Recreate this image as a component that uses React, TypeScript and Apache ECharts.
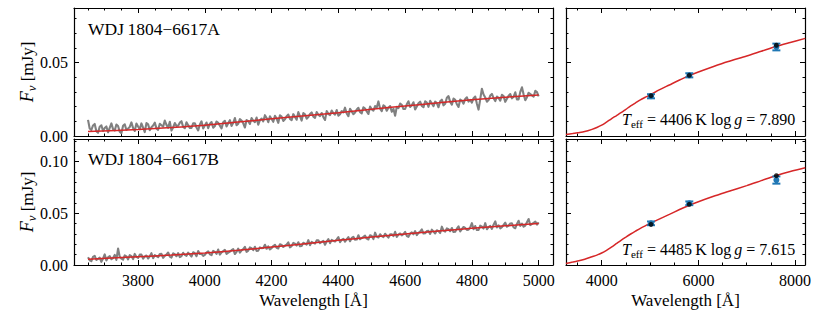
import React, { useEffect, useRef } from 'react';
import * as echarts from 'echarts';

// ---- data (flux in micro-Jansky; axes in mJy) ----
const SPEC_START = 3650; // Å
const SPEC_STEP = 5; // Å
const fluxA_uJy = [
  11.0, 5.1, 4.1, 7.2, 8.2, 3.3, 2.2, 6.3, 7.3, 3.4, 5.4, 6.5, 2.5, 5.6, 8.6, 4.7, 3.7, 7.8, 6.8, 2.9,
  1.9, 7.0, 8.0, 4.1, 5.1, 6.2, 9.3, 5.4, 3.4, 8.5, 6.5, 4.6, 8.6, 5.7, 2.7, 8.8, 7.9, 4.0, 6.0, 7.1,
  9.1, 5.2, 4.2, 8.3, 7.3, 6.4, 10.5, 7.6, 5.6, 9.7, 3.7, 5.8, 8.8, 6.9, 7.0, 9.1, 10.1, 6.2, 5.3, 9.4,
  7.4, 5.5, 5.5, 8.6, 8.7, 5.8, 3.8, 7.9, 10.0, 5.1, 7.1, 9.2, 5.3, 8.4, 9.5, 5.6, 6.8, 9.9, 9.0, 7.1,
  5.2, 9.3, 10.4, 6.5, 8.7, 10.8, 6.9, 9.0, 12.2, 7.3, 8.4, 11.5, 10.6, 8.7, 5.8, 10.9, 10.1, 8.2, 12.3, 10.4,
  9.5, 12.6, 7.7, 10.8, 11.9, 10.0, 14.2, 12.3, 9.4, 13.5, 11.6, 9.7, 13.8, 11.9, 9.0, 14.1, 13.2, 10.3, 11.4, 13.5,
  14.6, 11.7, 10.8, 14.9, 13.0, 11.1, 16.3, 13.4, 10.5, 15.6, 14.7, 11.8, 12.9, 15.0, 16.1, 13.2, 12.3, 16.4, 14.5, 13.6,
  15.7, 12.8, 10.9, 17.0, 15.1, 14.2, 17.4, 15.5, 14.6, 17.7, 13.8, 14.9, 17.0, 16.1, 19.3, 15.4, 13.5, 18.6, 16.8, 14.9,
  16.0, 18.1, 19.2, 16.3, 15.5, 19.6, 18.7, 16.8, 15.0, 20.1, 18.2, 17.3, 20.4, 19.5, 23.6, 18.7, 16.9, 21.0, 20.1, 17.2,
  19.3, 20.4, 16.5, 18.6, 13.8, 19.9, 19.0, 22.1, 21.3, 18.4, 18.5, 21.6, 23.7, 19.8, 20.9, 23.0, 18.1, 20.2, 22.3, 23.4,
  20.5, 19.6, 23.7, 22.8, 19.9, 24.0, 22.2, 20.3, 23.4, 22.5, 19.6, 23.7, 24.8, 20.9, 22.0, 26.1, 27.2, 23.3, 21.4, 25.5,
  24.6, 21.7, 19.8, 24.9, 24.0, 22.1, 25.3, 26.4, 23.5, 24.6, 22.7, 25.8, 26.9, 22.0, 18.0, 25.1, 32.2, 28.3, 26.3, 23.4,
  24.5, 27.6, 28.7, 25.8, 23.8, 26.9, 26.0, 24.1, 28.1, 27.2, 23.3, 25.4, 27.5, 28.6, 25.7, 26.8, 29.8, 24.9, 25.0, 30.1,
  33.2, 28.3, 24.4, 26.5, 29.5, 28.6, 27.7, 26.8, 30.8, 29.9,
  27.0,
];
const fluxB_uJy = [
  7.5, 4.6, 3.7, 7.8, 8.8, 4.9, 6.0, 7.1, 3.1, 6.2, 10.3, 4.4, 7.5, 8.6, 5.6, 6.7, 9.8, 4.9, 15.9, 8.0,
  6.1, 5.2, 9.3, 8.4, 5.4, 9.5, 8.6, 5.7, 10.7, 7.8, 6.9, 10.0, 10.0, 6.1, 8.1, 9.2, 6.3, 8.4, 11.4, 6.5,
  9.5, 8.6, 7.6, 10.7, 10.8, 6.9, 8.9, 10.0, 12.1, 8.2, 7.2, 11.3, 10.4, 8.5, 11.5, 7.6, 8.7, 11.8, 9.8, 8.9,
  12.0, 10.1, 8.2, 12.3, 11.4, 8.5, 13.5, 10.6, 10.7, 8.8, 9.9, 12.0, 13.2, 10.3, 9.5, 13.6, 12.7, 10.8, 15.0, 10.1,
  12.3, 13.4, 14.6, 10.7, 11.9, 13.0, 14.3, 15.4, 10.6, 12.7, 15.9, 12.0, 14.2, 15.3, 17.6, 12.7, 13.9, 17.0, 16.3, 14.4,
  17.6, 13.7, 13.9, 17.0, 16.3, 16.4, 19.6, 15.7, 18.0, 15.1, 16.3, 18.4, 19.6, 16.7, 16.0, 20.1, 19.3, 17.4, 18.7, 19.8,
  22.0, 17.1, 18.3, 21.4, 20.7, 18.8, 22.0, 18.1, 18.4, 21.5, 20.7, 19.8, 24.0, 19.1, 22.3, 21.4, 20.7, 23.8, 24.0, 21.1,
  22.3, 23.4, 19.6, 22.7, 25.0, 21.1, 24.3, 23.4, 22.7, 24.8, 27.0, 22.1, 24.3, 25.4, 22.6, 24.7, 26.9, 23.0, 26.2, 27.3,
  24.5, 24.6, 28.8, 24.9, 26.1, 27.2, 28.4, 25.5, 24.7, 28.8, 28.0, 25.1, 31.3, 27.4, 26.6, 29.7, 27.9, 27.0, 30.2, 28.3,
  26.5, 29.6, 29.8, 27.9, 32.1, 27.2, 29.4, 30.5, 28.7, 29.8, 32.0, 28.1, 27.3, 30.4, 31.6, 29.7, 32.8, 28.9, 31.1, 32.2,
  34.4, 30.5, 30.7, 32.8, 33.0, 30.1, 34.2, 32.3, 30.5, 33.6, 32.8, 30.9, 37.1, 33.2, 32.3, 35.4, 34.6, 32.7, 35.8, 31.9,
  32.1, 35.2, 37.4, 32.5, 34.7, 36.8, 35.9, 34.0, 34.2, 36.3, 40.5, 34.6, 37.7, 33.8, 34.0, 38.1, 37.2, 35.3, 40.5, 34.6,
  36.7, 37.8, 34.9, 39.0, 42.2, 36.3, 38.4, 35.5, 36.7, 38.8, 40.9, 37.0, 38.1, 40.2, 40.3, 36.4, 35.6, 39.7, 42.8, 37.9,
  40.0, 37.1, 38.2, 41.3, 44.5, 38.6, 39.7, 40.8, 42.0, 39.1,
  41.2,
];
const modelWave = [3260, 3400, 3500, 3650, 3800, 3900, 4000, 4100, 4200, 4300, 4400, 4500, 4600, 4700, 4800, 4900, 5000, 5200, 5400, 5600, 5800, 6000, 6300, 6600, 7000, 7300, 7600, 7900, 8210];
const modelA_uJy = [1.1, 1.7, 2.2, 3.0, 4.5, 5.8, 7.4, 9.5, 11.7, 13.8, 15.9, 18.2, 20.5, 22.6, 24.7, 26.4, 28.0, 31.6, 34.8, 38.0, 41.0, 43.6, 47.2, 50.6, 54.6, 57.8, 61.0, 63.8, 66.6];
const modelB_uJy = [1.5, 2.8, 3.8, 5.6, 8.0, 9.6, 11.6, 14.2, 17.3, 20.6, 23.9, 27.0, 30.0, 32.8, 35.5, 37.9, 40.2, 44.6, 49.0, 53.4, 57.6, 61.2, 66.2, 70.8, 76.8, 81.6, 86.4, 90.4, 94.0];
const photWave = [5020, 5812, 7613];
const photObsA_uJy = [27.1, 41.4, 60.7];
const photErrA_uJy = [1.4, 1.4, 2.3];
const photSynA_uJy = [27.5, 41.4, 61.9];
const photObsB_uJy = [40.3, 59.7, 82.2];
const photErrB_uJy = [1.8, 1.8, 3.5];
const photSynB_uJy = [39.3, 58.7, 86.4];
const titles = ['WDJ\u20091804\u22126617A', 'WDJ\u20091804\u22126617B'];
const teffText = ['4406', '4485'];
const loggText = ['7.890', '7.615'];
const yTickFmt = (v: number) => v.toFixed(2);
const xTickFmt = (v: number) => String(v);

const FONT = '"Liberation Serif", "DejaVu Serif", serif';
const RED = '#d62728';
const GRAY = '#808080';
const BLUE = '#1f77b4';

const toMJy = (v: number) => v / 1000;
const specData = (arr: number[]) => arr.map((f, i) => [SPEC_START + i * SPEC_STEP, toMJy(f)]);
const modelData = (arr: number[], lo: number, hi: number) =>
  modelWave.map((w, i) => [w, toMJy(arr[i])]).filter((p) => p[0] >= lo && p[0] <= hi);
const photData = (obs: number[], err: number[]) => photWave.map((w, i) => [w, toMJy(obs[i]), toMJy(err[i])]);
const synData = (syn: number[]) => photWave.map((w, i) => [w, toMJy(syn[i])]);

const grids = [
  { left: 74, top: 8, width: 479, height: 128 },
  { left: 74, top: 139, width: 479, height: 126 },
  { left: 566, top: 8, width: 239, height: 128 },
  { left: 566, top: 139, width: 239, height: 126 },
];

const lineStyle = { color: '#000', width: 1.2 };
const tickStyle = { color: '#000', width: 1 };

function xAxis(gridIndex: number, position: string, min: number, max: number, step: number, labels: boolean) {
  return {
    type: 'value', gridIndex, position, min, max, minInterval: step, maxInterval: step, splitNumber: 5,
    axisLine: { show: true, onZero: false, lineStyle },
    axisTick: { show: true, inside: true, length: 5, lineStyle: tickStyle },
    minorTick: { show: true, splitNumber: 4, length: 2.5, lineStyle: tickStyle },
    axisLabel: { show: labels, showMinLabel: false, showMaxLabel: false, margin: 7, color: '#000', fontFamily: FONT, fontSize: 16, formatter: xTickFmt },
    splitLine: { show: false },
    minorSplitLine: { show: false },
  };
}
function yAxis(gridIndex: number, position: string, max: number, labels: boolean) {
  return {
    type: 'value', gridIndex, position, min: 0, max, minInterval: 0.05, maxInterval: 0.05, splitNumber: 3,
    axisLine: { show: true, onZero: false, lineStyle },
    axisTick: { show: true, inside: true, length: 5, lineStyle: tickStyle },
    minorTick: { show: true, splitNumber: 5, length: 2.5, lineStyle: tickStyle },
    axisLabel: { show: labels, showMaxLabel: false, margin: 6, color: '#000', fontFamily: FONT, fontSize: 16, formatter: yTickFmt },
    splitLine: { show: false },
    minorSplitLine: { show: false },
  };
}

const errRender = (params: any, api: any) => {
  const x = api.value(0);
  const y = api.value(1);
  const e = api.value(2);
  const t = api.coord([x, y + e]);
  const b = api.coord([x, y - e]);
  const c = api.coord([x, y]);
  const cap = 4;
  return {
    type: 'group',
    children: [
      { type: 'line', shape: { x1: t[0], y1: t[1], x2: b[0], y2: b[1] }, style: { stroke: BLUE, lineWidth: 2.5 } },
      { type: 'line', shape: { x1: t[0] - cap, y1: t[1], x2: t[0] + cap, y2: t[1] }, style: { stroke: BLUE, lineWidth: 2 } },
      { type: 'line', shape: { x1: b[0] - cap, y1: b[1], x2: b[0] + cap, y2: b[1] }, style: { stroke: BLUE, lineWidth: 2 } },
      { type: 'circle', shape: { cx: c[0], cy: c[1], r: 3 }, style: { fill: BLUE } },
    ],
  };
};

const richBase = {
  it: { fontFamily: FONT, fontSize: 16, fontStyle: 'italic', lineHeight: 20, fill: '#000' },
  rm: { fontFamily: FONT, fontSize: 16, lineHeight: 20, fill: '#000' },
  sub: { fontFamily: FONT, fontSize: 11, lineHeight: 10, verticalAlign: 'bottom', fill: '#000' },
};
const richY = {
  it: { fontFamily: FONT, fontSize: 18, fontStyle: 'italic', lineHeight: 22, fill: '#000' },
  rm: { fontFamily: FONT, fontSize: 17, lineHeight: 22, fill: '#000' },
  sub: { fontFamily: FONT, fontSize: 13, fontStyle: 'italic', lineHeight: 11, verticalAlign: 'bottom', fill: '#000' },
};

export default function App() {
  const ref = useRef<HTMLDivElement>(null);
  useEffect(() => {
    if (!ref.current) return;
    const chart = echarts.init(ref.current, undefined, { renderer: 'svg' });
    const yMaxTop = 0.0873;
    const yMaxBot = 0.1219;
    const LX = [3608, 5043];
    const RX = [3262, 8205];
    const series: any[] = [];
    const specs = [fluxA_uJy, fluxB_uJy];
    const models = [modelA_uJy, modelB_uJy];
    const obs = [photObsA_uJy, photObsB_uJy];
    const errs = [photErrA_uJy, photErrB_uJy];
    const syns = [photSynA_uJy, photSynB_uJy];
    for (let k = 0; k < 2; k++) {
      const gl = k;
      const gr = k + 2;
      series.push({
        type: 'line', xAxisIndex: gl * 2, yAxisIndex: gl * 2, data: specData(specs[k]), showSymbol: false,
        lineStyle: { color: GRAY, width: 2.1, join: 'round' }, z: 2, silent: true,
      });
      series.push({
        type: 'line', xAxisIndex: gl * 2, yAxisIndex: gl * 2, data: modelData(models[k], 3650, 5000), showSymbol: false,
        smooth: 0.3, lineStyle: { color: RED, width: 1.5 }, z: 3, silent: true,
      });
      series.push({
        type: 'line', xAxisIndex: gr * 2, yAxisIndex: gr * 2, data: modelData(models[k], 0, 1e5), showSymbol: false,
        smooth: 0.3, lineStyle: { color: RED, width: 1.5 }, z: 2, silent: true,
      });
      series.push({
        type: 'custom', xAxisIndex: gr * 2, yAxisIndex: gr * 2, data: photData(obs[k], errs[k]), renderItem: errRender, z: 3, silent: true,
      });
      series.push({
        type: 'scatter', xAxisIndex: gr * 2, yAxisIndex: gr * 2, data: synData(syns[k]), symbolSize: 5,
        itemStyle: { color: '#000' }, z: 4, silent: true,
      });
    }
    const graphic: any[] = [];
    const ys = [29, 159];
    const teffY = [119, 249];
    const yLabelY = [72, 202];
    for (let k = 0; k < 2; k++) {
      graphic.push({ type: 'text', x: 88, y: ys[k], style: { text: titles[k], font: `17.5px ${FONT}`, fill: '#000', verticalAlign: 'middle' } });
      graphic.push({
        type: 'text', x: 622, y: teffY[k],
        style: {
          text: `{it|T}{sub|eff}{rm| = ${teffText[k]}\u2009K log\u2009}{it|g}{rm| = ${loggText[k]}}`,
          rich: richBase, verticalAlign: 'middle', align: 'left',
        },
      });
      graphic.push({
        type: 'text', x: 27, y: yLabelY[k], rotation: Math.PI / 2,
        style: { text: '{it|F}{sub|\u03bd}{rm| [mJy]}', rich: richY, align: 'center', verticalAlign: 'middle' },
      });
    }
    graphic.push({ type: 'text', x: 313.5, y: 300, style: { text: 'Wavelength [\u00c5]', font: `17px ${FONT}`, fill: '#000', align: 'center', verticalAlign: 'middle' } });
    graphic.push({ type: 'text', x: 685.5, y: 300, style: { text: 'Wavelength [\u00c5]', font: `17px ${FONT}`, fill: '#000', align: 'center', verticalAlign: 'middle' } });

    chart.setOption({
      animation: false,
      backgroundColor: '#fff',
      grid: grids.map((g) => ({ ...g, containLabel: false, outerBoundsMode: 'none' })),
      xAxis: [
        xAxis(0, 'bottom', LX[0], LX[1], 200, false), xAxis(0, 'top', LX[0], LX[1], 200, false),
        xAxis(1, 'bottom', LX[0], LX[1], 200, true), xAxis(1, 'top', LX[0], LX[1], 200, false),
        xAxis(2, 'bottom', RX[0], RX[1], 2000, false), xAxis(2, 'top', RX[0], RX[1], 2000, false),
        xAxis(3, 'bottom', RX[0], RX[1], 2000, true), xAxis(3, 'top', RX[0], RX[1], 2000, false),
      ],
      yAxis: [
        yAxis(0, 'left', yMaxTop, true), yAxis(0, 'right', yMaxTop, false),
        yAxis(1, 'left', yMaxBot, true), yAxis(1, 'right', yMaxBot, false),
        yAxis(2, 'left', yMaxTop, false), yAxis(2, 'right', yMaxTop, false),
        yAxis(3, 'left', yMaxBot, false), yAxis(3, 'right', yMaxBot, false),
      ],
      series,
      graphic,
    });
    return () => chart.dispose();
  }, []);
  return <div ref={ref} style={{ position: 'fixed', left: 0, top: 0, width: 830, height: 312, background: '#fff' }} />;
}
